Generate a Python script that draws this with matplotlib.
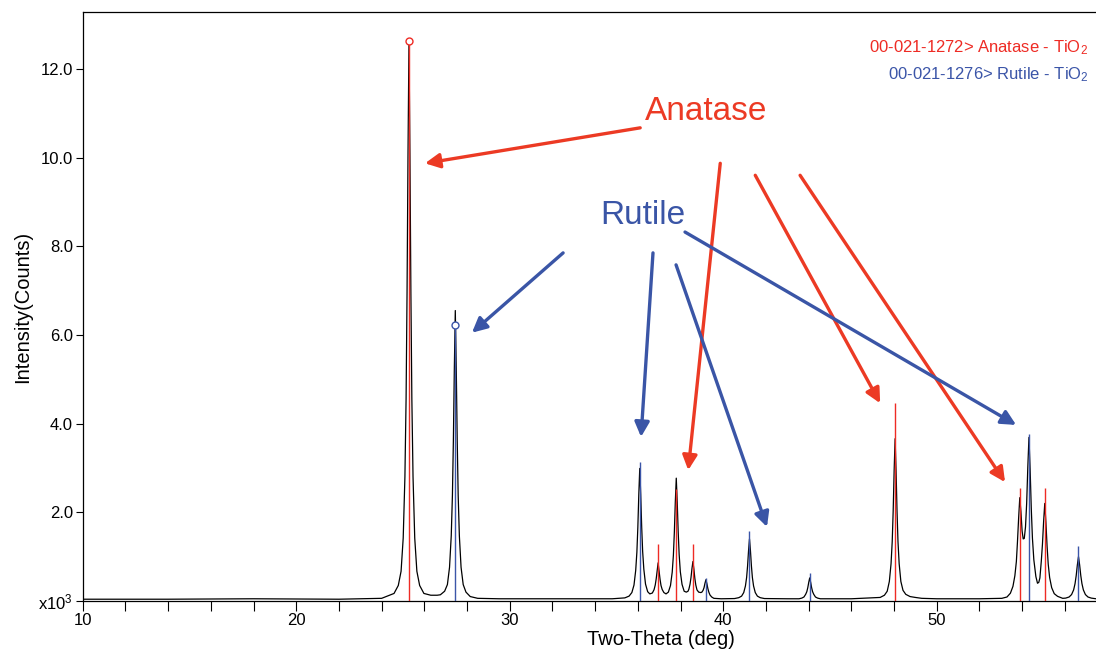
import matplotlib
matplotlib.use("Agg")
import matplotlib.pyplot as plt

plt.rcParams['font.family'] = ['Liberation Sans', 'DejaVu Sans']
plt.rcParams['mathtext.fontset'] = 'custom'
plt.rcParams['mathtext.rm'] = 'Liberation Sans'
plt.rcParams['mathtext.it'] = 'Liberation Sans'
plt.rcParams['mathtext.default'] = 'regular'

two_theta = [
    10.0, 14.0, 18.0, 22.0, 24.0,
    24.58, 24.78, 24.91, 25.01, 25.09, 25.145, 25.19, 25.235, 25.28, 25.325,
    25.37, 25.415, 25.47, 25.55, 25.65, 25.78, 25.98, 26.3, 26.6,
    26.75, 26.95, 27.08, 27.18, 27.26, 27.315, 27.36, 27.405, 27.45, 27.495,
    27.54, 27.585, 27.64, 27.72, 27.82, 27.95, 28.15, 28.5, 29.5, 32.0, 34.8,
    35.39, 35.59, 35.72, 35.82, 35.9, 35.955, 36.0, 36.045, 36.09, 36.135,
    36.18, 36.225, 36.28, 36.36, 36.46, 36.56, 36.68, 36.76, 36.815, 36.86,
    36.905, 36.95, 36.995, 37.04, 37.085, 37.14, 37.22, 37.32, 37.43, 37.53,
    37.61, 37.665, 37.71, 37.755, 37.8, 37.845, 37.89, 37.935, 37.99, 38.07,
    38.17, 38.27, 38.35, 38.39, 38.445, 38.49, 38.535, 38.58, 38.625, 38.67,
    38.715, 38.77, 38.85, 38.95, 39.0, 39.055, 39.1, 39.145, 39.19, 39.235,
    39.28, 39.325, 39.38, 39.46, 39.56, 39.9,
    40.53, 40.73, 40.86, 40.96, 41.04, 41.095, 41.14, 41.185, 41.23, 41.275,
    41.32, 41.365, 41.42, 41.5, 41.6, 41.73, 41.93, 43.0,
    43.55, 43.68, 43.78, 43.86, 43.915, 43.96, 44.005, 44.05, 44.095, 44.14,
    44.185, 44.24, 44.32, 44.42, 44.55, 46.0,
    47.35, 47.55, 47.68, 47.78, 47.86, 47.915, 47.96, 48.005, 48.05, 48.095,
    48.14, 48.185, 48.24, 48.32, 48.42, 48.55, 48.75, 49.0, 49.3, 50.0, 52.0,
    53.05, 53.29, 53.45, 53.57, 53.66, 53.73, 53.78, 53.836, 53.89, 53.944,
    53.998, 54.05, 54.1, 54.158, 54.212, 54.266, 54.32, 54.374, 54.428, 54.482,
    54.548, 54.644, 54.72, 54.78, 54.832, 54.898, 54.952, 55.006, 55.06, 55.114,
    55.168, 55.222, 55.288, 55.384, 55.504, 55.66, 55.9,
    56.04, 56.2, 56.316, 56.412, 56.478, 56.532, 56.586, 56.64, 56.694, 56.748,
    56.802, 56.868, 56.964, 57.084, 57.24, 57.46,
]
counts = [
    0.04, 0.04, 0.05, 0.04, 0.06,
    0.17, 0.35, 0.67, 1.42, 2.8, 4.56, 6.95, 10.09, 12.6, 10.09,
    6.95, 4.56, 2.8, 1.42, 0.67, 0.35, 0.17, 0.13, 0.13,
    0.14, 0.22, 0.37, 0.76, 1.47, 2.38, 3.62, 5.24, 6.55, 5.24,
    3.62, 2.38, 1.47, 0.76, 0.37, 0.2, 0.1, 0.06, 0.05, 0.05, 0.05,
    0.07, 0.11, 0.19, 0.36, 0.69, 1.1, 1.66, 2.4, 2.99, 2.4,
    1.67, 1.12, 0.72, 0.38, 0.21, 0.16, 0.18, 0.255, 0.36, 0.5,
    0.69, 0.86, 0.68, 0.49, 0.35, 0.26, 0.19, 0.16, 0.2, 0.35,
    0.65, 1.03, 1.55, 2.23, 2.77, 2.23, 1.56, 1.05, 0.66, 0.375,
    0.22, 0.2, 0.22, 0.265, 0.38, 0.53, 0.73, 0.89, 0.72, 0.51,
    0.36, 0.25, 0.2, 0.19, 0.2, 0.24, 0.3, 0.4, 0.48, 0.39,
    0.28, 0.2, 0.135, 0.09, 0.06, 0.05,
    0.055, 0.075, 0.11, 0.19, 0.34, 0.53, 0.79, 1.13, 1.4, 1.13,
    0.79, 0.53, 0.34, 0.19, 0.11, 0.075, 0.055, 0.05,
    0.05, 0.065, 0.09, 0.15, 0.21, 0.3, 0.42, 0.52, 0.42, 0.3,
    0.21, 0.15, 0.09, 0.065, 0.05, 0.05,
    0.08, 0.13, 0.22, 0.44, 0.84, 1.34, 2.03, 2.94, 3.66, 2.94,
    2.03, 1.34, 0.84, 0.44, 0.24, 0.15, 0.1, 0.08, 0.06, 0.05, 0.05,
    0.06, 0.09, 0.175, 0.33, 0.57, 0.89, 1.32, 1.87, 2.33, 2.01,
    1.58, 1.4, 1.41, 1.67, 2.2, 3.02, 3.69, 2.98, 2.09, 1.42,
    0.93, 0.55, 0.4, 0.42, 0.52, 0.9, 1.28, 1.79, 2.2, 1.77,
    1.24, 0.83, 0.53, 0.3, 0.165, 0.105, 0.06,
    0.065, 0.09, 0.145, 0.25, 0.39, 0.57, 0.81, 1.0, 0.81, 0.57,
    0.39, 0.25, 0.145, 0.09, 0.065, 0.05,
]

# reference stick patterns (PDF cards)
anatase_pos = [25.28, 36.95, 37.80, 38.58, 48.05, 53.89, 55.06]
anatase_int = [12.63, 1.28, 2.52, 1.28, 4.46, 2.54, 2.54]
rutile_pos = [27.45, 36.09, 39.19, 41.23, 44.05, 54.32, 56.64]
rutile_int = [6.23, 3.14, 0.51, 1.58, 0.64, 3.77, 1.25]

# annotation arrows: (start x, start y, end x, end y)
anatase_arrows = [(36.11, 10.67, 26.03, 9.87), (39.86, 9.87, 38.36, 2.95),
                  (41.50, 9.60, 47.35, 4.46), (43.60, 9.60, 53.20, 2.68)]
rutile_arrows = [(32.50, 7.85, 28.23, 6.05), (36.71, 7.85, 36.15, 3.70),
                 (37.79, 7.58, 42.05, 1.67), (38.21, 8.32, 53.72, 3.97)]

x_ticks = list(range(10, 58, 2))
x_labels = [str(t) if t % 10 == 0 else '' for t in x_ticks]
y_ticks = [0, 2, 4, 6, 8, 10, 12]
y_labels = ['x10$^3$', '2.0', '4.0', '6.0', '8.0', '10.0', '12.0']

red = '#ee2b24'
blue = '#3b55a8'
arrow_red = '#ec3a24'
arrow_blue = '#3a55a6'

fig = plt.figure(figsize=(10.96, 6.5), dpi=100)
ax = fig.add_axes([0.0755, 0.0754, 0.9245, 0.906])

ax.plot(two_theta, counts, color='black', lw=0.9, zorder=2)
ax.vlines(anatase_pos, 0, anatase_int, color=red, lw=1.0, zorder=3)
ax.vlines(rutile_pos, 0, rutile_int, color=blue, lw=1.0, zorder=3)
ax.plot(anatase_pos[0], anatase_int[0], 'o', mfc='white', mec=red, ms=5, mew=1, zorder=4)
ax.plot(rutile_pos[0], rutile_int[0], 'o', mfc='white', mec=blue, ms=5, mew=1, zorder=4)

for x0, y0, x1, y1 in anatase_arrows:
    ax.annotate('', xy=(x1, y1), xytext=(x0, y0),
                arrowprops=dict(arrowstyle='-|>', color=arrow_red, lw=2.4,
                                mutation_scale=22, shrinkA=0, shrinkB=0))
for x0, y0, x1, y1 in rutile_arrows:
    ax.annotate('', xy=(x1, y1), xytext=(x0, y0),
                arrowprops=dict(arrowstyle='-|>', color=arrow_blue, lw=2.4,
                                mutation_scale=22, shrinkA=0, shrinkB=0))

ax.text(39.21, 11.03, 'Anatase', color=arrow_red, fontsize=24, ha='center', va='center')
ax.text(36.25, 8.70, 'Rutile', color=arrow_blue, fontsize=24, ha='center', va='center')

ax.text(0.9925, 0.94, '00-021-1272> Anatase - TiO$_2$', color=red, fontsize=12,
        ha='right', va='center', transform=ax.transAxes)
ax.text(0.9925, 0.893, '00-021-1276> Rutile - TiO$_2$', color=blue, fontsize=12,
        ha='right', va='center', transform=ax.transAxes)

ax.set_xlim(10, 57.46)
ax.set_ylim(0, 13.28)
ax.set_xticks(x_ticks)
ax.set_xticklabels(x_labels)
ax.set_yticks(y_ticks)
ax.set_yticklabels(y_labels)
ax.tick_params(axis='x', direction='out', length=7, width=0.8, labelsize=12, pad=2)
ax.tick_params(axis='y', direction='out', length=5, width=0.8, labelsize=12, pad=2)
ax.spines['right'].set_visible(False)
for s in ['left', 'bottom', 'top']:
    ax.spines[s].set_linewidth(0.9)

ax.set_xlabel('Two-Theta (deg)', fontsize=14.5)
ax.set_ylabel('Intensity(Counts)', fontsize=14.5)
ax.xaxis.set_label_coords(0.571, -0.05)
ax.yaxis.set_label_coords(-0.05, 0.5)

fig.savefig('out.png', dpi=100)
